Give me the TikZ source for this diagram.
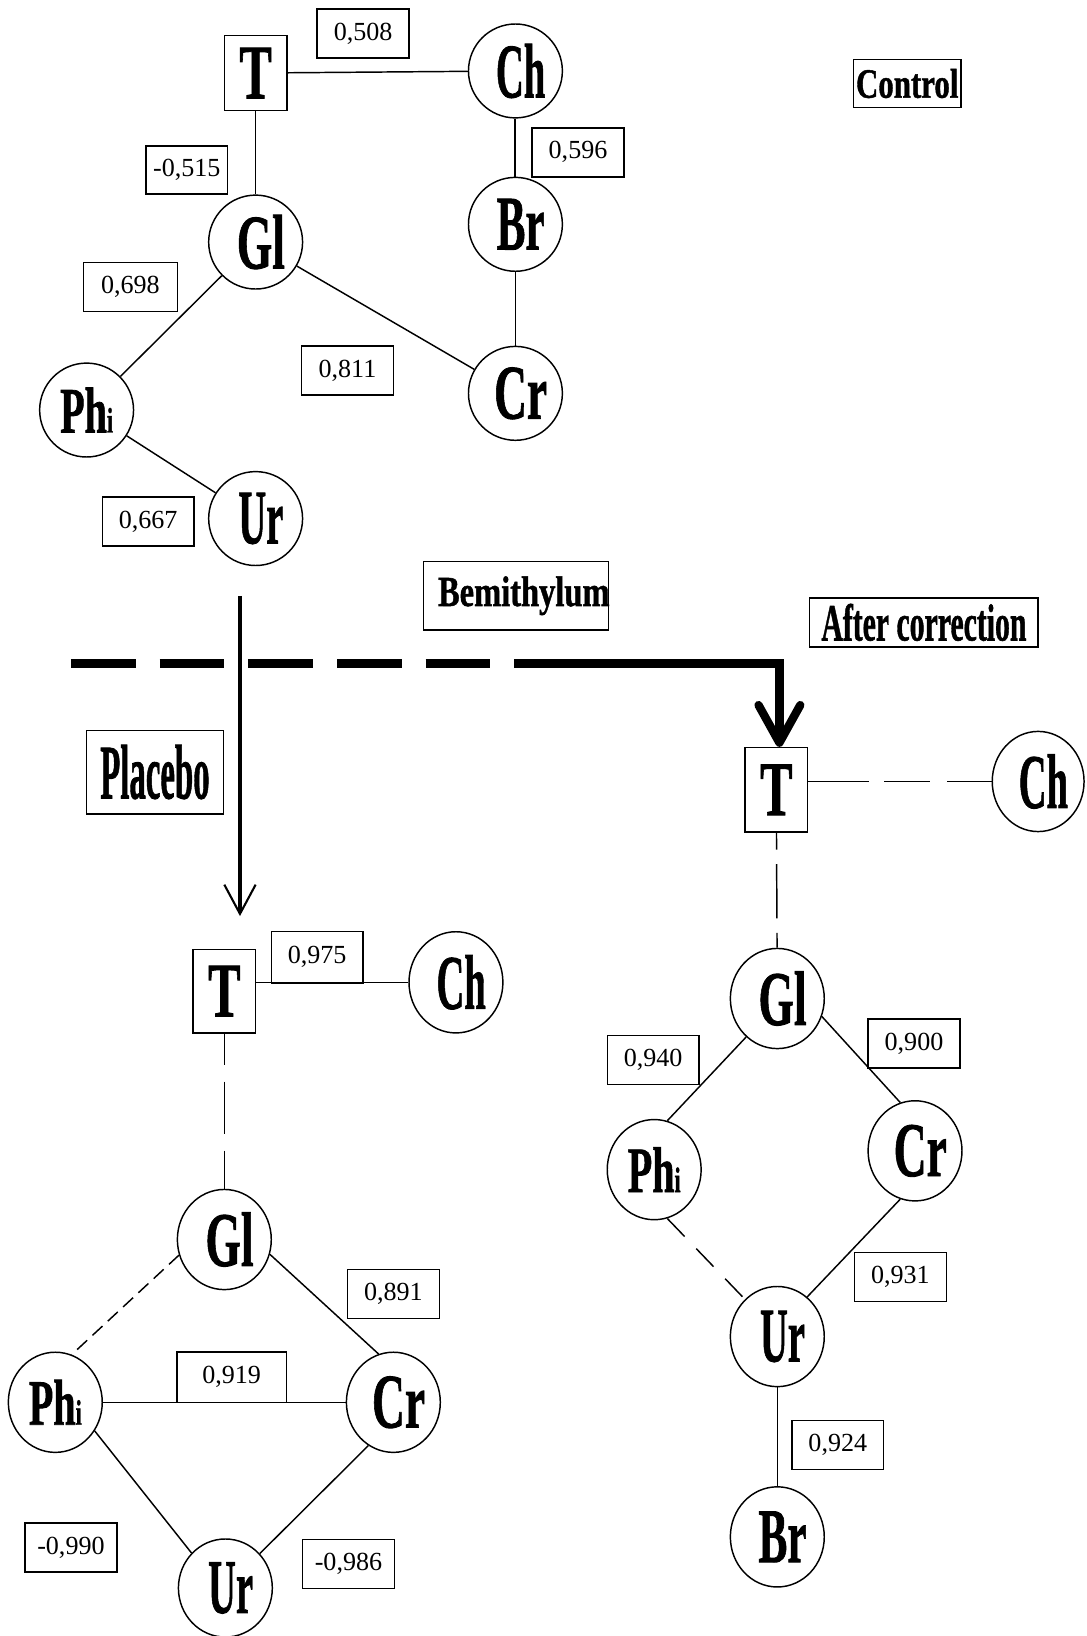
\documentclass[tikz,border=0pt]{standalone}
\usepackage{fontspec}
\setmainfont{Liberation Serif}
\newfontfamily\heavyserif[BoldFeatures={FakeBold=1.2}]{Liberation Serif}
\usepackage{graphicx}
\usetikzlibrary{shapes.geometric,arrows.meta}

% condensed bold label: horizontal factor, size, text
\newcommand\vlabel[3]{\makebox[0pt]{\scalebox{#1}[1]{\fontsize{#2}{#2}\heavyserif\bfseries #3}}}
% the same, set a little right of the node centre
\newcommand\vlabelr[3]{\hspace*{10pt}\vlabel{#1}{#2}{#3}}
\newcommand\phlabel{\vlabel{0.62}{62}{Ph\fontsize{34}{34}\selectfont i}}
\newcommand\numsize{\fontsize{25}{25}\selectfont}

\begin{document}
\begin{tikzpicture}[x=1pt,y=-1pt,line width=1.4pt,
  vtx/.style={ellipse,draw,inner sep=0pt,minimum width=90pt,minimum height=96pt},
  rnd/.style={vtx,minimum height=90pt},
  tbox/.style={rectangle,draw,inner sep=0pt,minimum width=60pt},
  nbox/.style={rectangle,draw,inner sep=0pt,minimum width=88pt,minimum height=47pt,font=\numsize},
  hbox/.style={rectangle,draw,inner sep=0pt},
  brk/.style={dash pattern=on 13pt off 7pt},
  bigdash/.style={line width=8.3pt,dash pattern=on 62pt off 23pt},
]
\useasboundingbox (0,0) rectangle (1041,1568);

% ---------- Control ----------
\node[tbox,minimum height=72pt] (cT) at (245,70) {\vlabel{0.63}{74}{T}};
\node[rnd] (cCh) at (494,68) {\vlabelr{0.5}{74}{Ch}};
\node[rnd] (cBr) at (494,215) {\vlabelr{0.56}{74}{Br}};
\node[rnd] (cCr) at (494,377) {\vlabelr{0.59}{74}{Cr}};
\node[rnd] (cGl) at (245,232) {\vlabelr{0.59}{74}{Gl}};
\node[rnd] (cPhi) at (83,393) {\phlabel};
\node[rnd] (cUr) at (245,497) {\vlabelr{0.5}{74}{Ur}};

\draw (cT) -- (cCh);
\draw[line width=1.8pt] (cCh) -- (cBr);
\draw (cBr) -- (cCr);
\draw (cT) -- (cGl);
\draw (cGl) -- (cPhi);
\draw (cGl) -- (cCr);
\draw (cPhi) -- (cUr);

\node[nbox] (c0508) at (348,32) {0,508};
\node[nbox] (c0596) at (554,146) {0,596};
\node[nbox,minimum width=78pt,minimum height=46pt] (c0515) at (179,163) {-0,515};
\node[nbox,minimum width=90pt] (c0698) at (125,275) {0,698};
\node[nbox] (c0811) at (333,355) {0,811};
\node[nbox] (c0667) at (142,500) {0,667};

\node[hbox,minimum width=103pt,minimum height=46pt] (hControl) at (869.5,80) {\vlabel{0.74}{40}{Control}};

% ---------- headings ----------
\node[hbox,minimum width=177pt,minimum height=66pt] (hBemi) at (494.5,571) {\hspace*{15pt}\vlabel{0.76}{41}{Bemithylum}};
\node[hbox,minimum width=219pt,minimum height=47pt] (hAfter) at (885.5,596.5) {\vlabel{0.57}{50}{After correction}};
\node[hbox,minimum width=131pt,minimum height=80pt] (hPlacebo) at (148.5,740) {\vlabel{0.425}{74}{Placebo}};

% ---------- Placebo ----------
\node[tbox,minimum height=80pt] (pT) at (215,950) {\vlabel{0.63}{74}{T}};
\node[vtx,minimum height=97pt] (pCh) at (437,941.5) {\vlabelr{0.5}{74}{Ch}};
\node[vtx] (pGl) at (215,1188) {\vlabelr{0.59}{74}{Gl}};
\node[vtx] (pPhi) at (53,1344) {\phlabel};
\node[vtx] (pCr) at (377,1344) {\vlabelr{0.59}{74}{Cr}};
\node[vtx,minimum height=94pt] (pUr) at (216,1522) {\vlabelr{0.5}{74}{Ur}};

\draw (pCh.west) -- (pCh.west -| pT.east);
\draw[dash pattern=on 30pt off 16pt on 50pt off 16pt on 40pt off 0pt] (pT) -- (pGl);
\draw[brk] (pGl.199) -- (pPhi.71);
\draw (pGl.-18) -- (pCr.107);
\draw (pPhi) -- (pCr);
\draw (pPhi.-36) -- (pUr.134);
\draw (pCr.240) -- (pUr.45);

\node[nbox,minimum height=49pt] (p0975) at (304,917.5) {0,975};
\node[nbox] (p0891) at (377,1240) {0,891};
\node[nbox,minimum width=105pt,minimum height=48pt] (p0919) at (222,1320) {0,919};
\node[nbox] (p0990) at (68,1483) {-0,990};
\node[nbox] (p0986) at (334,1499) {-0,986};

% ---------- After correction ----------
\node[tbox,minimum height=81pt] (aT) at (744,757) {\vlabel{0.63}{74}{T}};
\node[vtx,minimum width=88pt] (aCh) at (995,749) {\vlabelr{0.5}{74}{Ch}};
\node[vtx] (aGl) at (745,957) {\vlabelr{0.59}{74}{Gl}};
\node[vtx] (aPhi) at (627,1121) {\phlabel};
\node[vtx] (aCr) at (877,1103) {\vlabelr{0.59}{74}{Cr}};
\node[vtx] (aUr) at (745,1281) {\vlabelr{0.5}{74}{Ur}};
\node[vtx] (aBr) at (745,1473) {\vlabelr{0.56}{74}{Br}};

\draw[dash pattern=on 58pt off 15pt on 44pt off 16pt on 60pt off 0pt] (aCh.west -| aT.east) -- (aCh.west);
\draw[dash pattern=on 16pt off 14pt on 52pt off 14pt on 30pt off 0pt] (aT) -- (aGl);
\draw (aGl.231) -- (aPhi.75);
\draw (aGl.-22) -- (aCr.107);
\draw[dash pattern=on 24pt off 16pt] (aPhi.-75) -- (aUr.131);
\draw (aCr.253) -- (aUr.53);
\draw (aUr) -- (aBr);

\node[nbox] (a0940) at (626,1016) {0,940};
\node[nbox] (a0900) at (876,1000) {0,900};
\node[nbox] (a0931) at (863,1224) {0,931};
\node[nbox] (a0924) at (803,1385) {0,924};

% ---------- treatment arrows ----------
\coordinate (vTop) at (230,571);
\coordinate (vEnd) at (230,878);
\draw[line width=3pt,-{Straight Barb[length=28pt,width=30pt,line width=2pt]}] (vTop) -- (vEnd);

\coordinate (dashL) at (68,636);
\coordinate (dashR) at (470,636);
\coordinate (solidL) at (493,636);
\coordinate (bend) at (747,636);
\draw[bigdash] (dashL) -- (dashR);
\draw[line width=8pt,miter limit=10,-{Straight Barb[length=36pt,width=40pt,round]}] (solidL) -- (bend) -- (bend |- aT.north);
\end{tikzpicture}
\end{document}
